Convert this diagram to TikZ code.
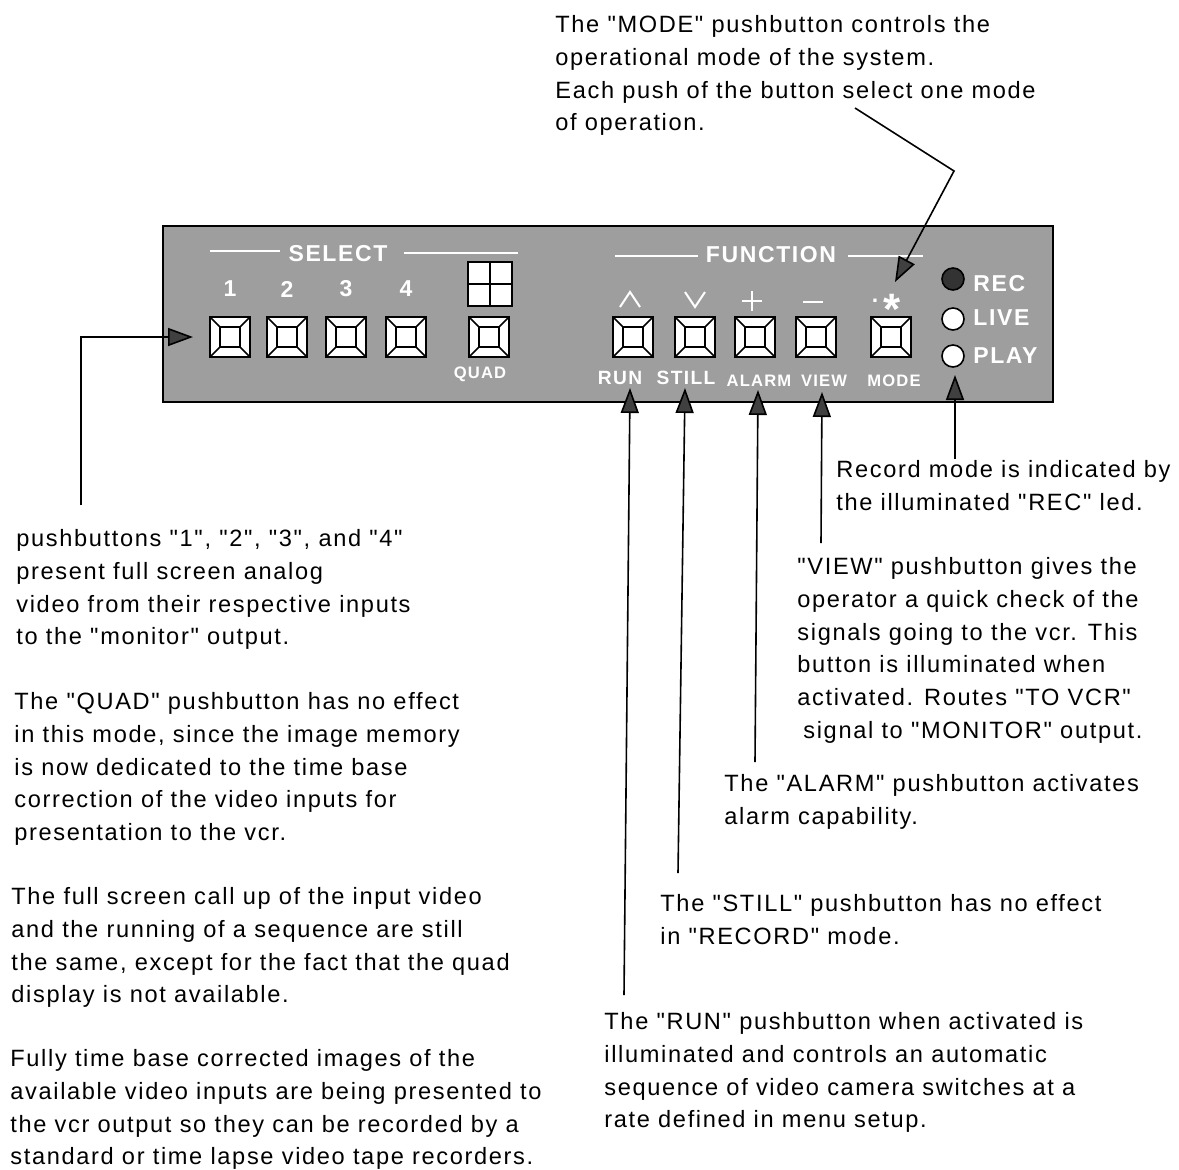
\documentclass[tikz,border=0pt]{standalone}
\usepackage{fontspec}
\setmainfont{Liberation Sans}[Ligatures=TeXOff, LetterSpace=7]
\usetikzlibrary{arrows.meta}
\definecolor{panelgray}{gray}{0.62}
\begin{document}
\begin{tikzpicture}[
    x=0.5pt, y=-0.5pt,
    panel/.style={draw, line width=1pt, fill=panelgray},
    pushbtn/.style={rectangle, draw, line width=1pt, fill=white, minimum size=20pt, inner sep=0pt,
        path picture={
            \draw[line width=0.8pt] (path picture bounding box.north west) -- ++(5pt,-5pt)
                  (path picture bounding box.north east) -- ++(-5pt,-5pt)
                  (path picture bounding box.south west) -- ++(5pt,5pt)
                  (path picture bounding box.south east) -- ++(-5pt,5pt);
            \draw[line width=0.8pt] ([shift={(5pt,-5pt)}]path picture bounding box.north west)
                rectangle ([shift={(-5pt,5pt)}]path picture bounding box.south east);
        }},
    led/.style={circle, draw, line width=0.8pt, fill=white, minimum size=11pt, inner sep=0pt},
    paneltext/.style={text=white, font=\fontsize{11.5}{13}\bfseries\selectfont, inner sep=0pt},
    smalltext/.style={text=white, font=\fontsize{8.3}{9}\bfseries\selectfont, inner sep=0pt},
    tagtext/.style={text=white, font=\fontsize{9.6}{10}\bfseries\selectfont, inner sep=0pt},
    note/.style={anchor=north west, align=left, inner sep=0pt,
        font=\fontsize{11.8}{16.4}\selectfont},
    whiteline/.style={white, line width=1pt},
    callout/.style={draw=black, line width=0.8pt,
        -{Triangle[length=12.5pt,width=9pt,fill=black!75]}}
]

\useasboundingbox (0,0) rectangle (1179,1169);

% panel
\node[panel, minimum width=445pt, minimum height=88pt, inner sep=0pt] (face) at (608,314) {};

\node[paneltext] (select) at (338,254) {SELECT};
\coordinate (sella) at (210,251);
\coordinate (sellb) at (280,251);
\coordinate (selra) at (404,253);
\coordinate (selrb) at (518,253);
\draw[whiteline] (sella) -- (sellb);
\draw[whiteline] (selra) -- (selrb);

\node[paneltext] (function) at (771,255) {FUNCTION};
\coordinate (funla) at (615,256);
\coordinate (funlb) at (698,256);
\coordinate (funra) at (848,256);
\coordinate (funrb) at (923,256);
\draw[whiteline] (funla) -- (funlb);
\draw[whiteline] (funra) -- (funrb);

% pushbuttons
\foreach \name/\xpos in {a/230, b/287, c/346, d/406, q/489, run/633, still/695, alarm/755, view/816, mode/891}
    \node[pushbtn] (\name) at (\xpos,337) {};

\foreach \name/\txt in {a/1, b/2, c/3, d/4}
    \node[paneltext] at ([yshift=13.5pt]\name.north) {\txt};

% quad symbol
\node[rectangle, draw, line width=1pt, fill=white, minimum size=22pt, inner sep=0pt] (quadsym) at (490,284) {};
\draw[line width=0.8pt] (quadsym.north) -- (quadsym.south);
\draw[line width=0.8pt] (quadsym.west) -- (quadsym.east);

\node[smalltext] (quad) at (480,374) {QUAD};

% key symbols
\draw[whiteline] (620,307) -- (630,292) -- (640,307);
\draw[whiteline] (685,292) -- (695,307) -- (705,292);
\draw[whiteline] (742,301) -- (762,301);
\draw[whiteline] (752,291) -- (752,311);
\draw[whiteline] (803,302) -- (823,302);
\node[paneltext] (dot) at (875,301) {.};
\node[text=white, font=\fontsize{22}{22}\bfseries\selectfont, inner sep=0pt] (star) at (892,309) {*};

\node[tagtext] (runl) at (620,378) {RUN};
\node[tagtext] (stilll) at (686,378) {STILL};
\node[smalltext] (alarml) at (759,381) {ALARM};
\node[smalltext] (viewl) at (824,381) {VIEW};
\node[smalltext] (model) at (894,381) {MODE};

% leds
\node[led, fill=black!80] (rec) at (953,279) {};
\node[led] (live) at (953,319) {};
\node[led] (play) at (953,356) {};
\node[paneltext, anchor=west] at (973,284) {REC};
\node[paneltext, anchor=west] at (973,318) {LIVE};
\node[paneltext, anchor=west] at (973,356) {PLAY};

% notes
\node[note] (nmode) at (555,15) {The "MODE" pushbutton controls the\\operational mode of the system.\\Each push of the button select one mode\\of operation.};
\node[note] (nrec) at (836,460) {Record mode is indicated by\\the illuminated "REC" led.};
\node[note] (nview) at (797,557) {"VIEW" pushbutton gives the\\operator a quick check of the\\signals going to the vcr. This\\button is illuminated when\\activated. Routes "TO VCR"\\\hspace*{3pt}signal to "MONITOR" output.};
\node[note] (nalarm) at (724,774) {The "ALARM" pushbutton activates\\alarm capability.};
\node[note] (nstill) at (660,894) {The "STILL" pushbutton has no effect\\in "RECORD" mode.};
\node[note] (nrun) at (604,1012) {The "RUN" pushbutton when activated is\\illuminated and controls an automatic\\sequence of video camera switches at a\\rate defined in menu setup.};
\node[note] (nbuttons) at (16,529) {pushbuttons "1", "2", "3", and "4"\\present full screen analog\\video from their respective inputs\\to the "monitor" output.};
\node[note] (nquad) at (14,692) {The "QUAD" pushbutton has no effect\\in this mode, since the image memory\\is now dedicated to the time base\\correction of the video inputs for\\presentation to the vcr.};
\node[note] (nfull) at (11,887) {The full screen call up of the input video\\and the running of a sequence are still\\the same, except for the fact that the quad\\display is not available.};
\node[note] (nbase) at (10,1049) {Fully time base corrected images of the\\available video inputs are being presented to\\the vcr output so they can be recorded by a\\standard or time lapse video tape recorders.};

% connectors
\coordinate (bstart) at (81,505);
\coordinate (bbend) at (81,337);
\coordinate (btip) at (193,337);
\draw[callout] (bstart) -- (bbend) -- (btip);

\coordinate (mstart) at (855,108);
\coordinate (mbend) at (954,171);
\coordinate (mtip) at (895,282);
\draw[callout] (mstart) -- (mbend) -- (mtip);

\coordinate (runstart) at (624,995);
\coordinate (runtip) at (630,388);
\draw[callout] (runstart) -- (runtip);

\coordinate (stillstart) at (678,873);
\coordinate (stilltip) at (685,388);
\draw[callout] (stillstart) -- (stilltip);

\coordinate (alarmstart) at (755,762);
\coordinate (alarmtip) at (758,390);
\draw[callout] (alarmstart) -- (alarmtip);

\coordinate (viewstart) at (821,543);
\coordinate (viewtip) at (822,392);
\draw[callout] (viewstart) -- (viewtip);

\coordinate (recstart) at (955,459);
\coordinate (rectip) at (955,375);
\draw[callout] (recstart) -- (rectip);

\end{tikzpicture}
\end{document}
